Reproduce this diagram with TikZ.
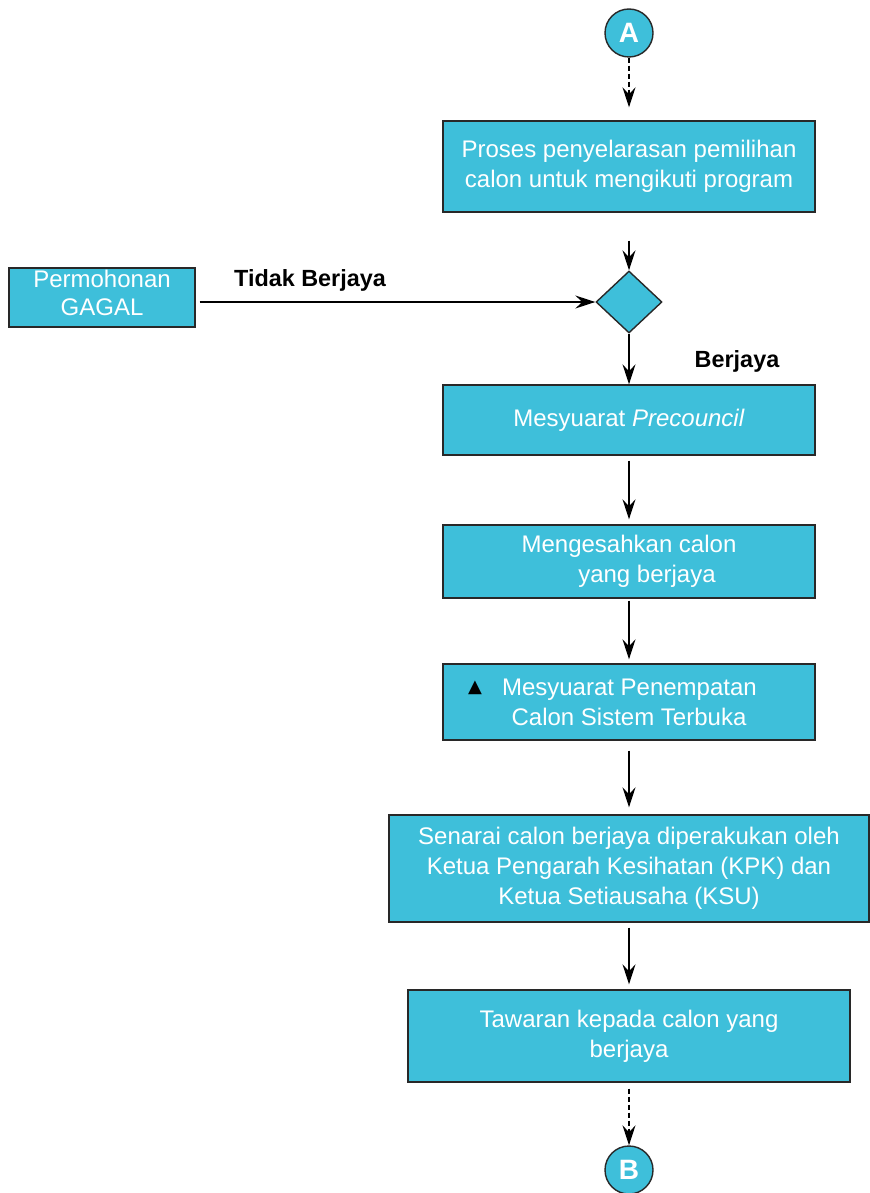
\documentclass[tikz,border=0pt]{standalone}
\usepackage{fontspec}
\setmainfont{Liberation Sans}
\newfontfamily\symfont{DejaVu Sans}
\usetikzlibrary{arrows.meta,positioning,shapes.geometric}
\definecolor{boxcyan}{RGB}{62,191,218}
\definecolor{edgegray}{RGB}{40,40,40}
\tikzstyle{box}=[draw=edgegray,fill=boxcyan,text=white,align=center,line width=0.7pt,minimum width=186pt,inner sep=0pt,font=\fontsize{12}{15}\selectfont]
\tikzstyle{dec}=[draw=edgegray,fill=boxcyan,diamond,line width=0.7pt,minimum width=33pt,minimum height=31pt,inner sep=0pt]
\tikzstyle{conn}=[draw=edgegray,fill=boxcyan,circle,line width=0.7pt,minimum size=24pt,inner sep=0pt,text=white,font=\fontsize{14}{14}\selectfont\bfseries]
\tikzstyle{lbl}=[font=\fontsize{11.7}{14}\selectfont\bfseries]

\begin{document}
\begin{tikzpicture}[
      >={Stealth[length=10pt,width=6.5pt,inset=3.5pt]},
      x=1pt,y=1pt,
      line width=0.6pt
    ]
    \useasboundingbox (0,0) rectangle (435,-596.5);

     \node [box,minimum height=45.5pt] (n1) at (314.5,-83.25) {Proses penyelarasan pemilihan\\calon untuk mengikuti program};
     \node [conn] (A) [node distance=66.75pt,above of=n1] {A};
     \node [dec] (d) [node distance=67.75pt,below of=n1] {};
     \node [box,minimum width=93pt,minimum height=29.5pt,font=\fontsize{12}{14}\selectfont] (gagal) [node distance=263.5pt,left of=d,yshift=2.25pt] {Permohonan\\GAGAL\rule[-5pt]{0pt}{0pt}};
     \node [box,minimum height=35pt] (n2) [node distance=59pt,below of=d] {Mesyuarat \textit{Precouncil}};
     \node [box,minimum height=36.5pt] (n3) [node distance=70.75pt,below of=n2] {Mengesahkan calon\\\hspace*{1.5em}yang berjaya};
     \node [box,minimum height=38pt] (n4) [node distance=70.25pt,below of=n3] {\raisebox{1.5pt}{\color{black}\symfont\fontsize{9}{9}\selectfont ▲}\hspace{10pt}Mesyuarat Penempatan\hspace{16.5pt}\mbox{}\\Calon Sistem Terbuka};
     \node [box,minimum width=240pt,minimum height=53.5pt] (n5) [node distance=83.25pt,below of=n4] {Senarai calon berjaya diperakukan oleh\\Ketua Pengarah Kesihatan (KPK) dan\\Ketua Setiausaha (KSU)};
     \node [box,minimum width=221pt,minimum height=46pt] (n6) [node distance=83.75pt,below of=n5] {Tawaran kepada calon yang\\berjaya};
     \node [conn] (B) [node distance=67pt,below of=n6] {B};

     \node [lbl] (tb) at (155,-140) {Tidak Berjaya};
     \node [lbl] (bj) at (368.5,-180.5) {Berjaya};

      \draw[->,dash pattern=on 2.5pt off 1.5pt,shorten >=6.5pt] (A) -- (n1);
      \draw[->,shorten <=14pt] (n1) -- (d);
      \draw[->,shorten <=2pt] (gagal.east |- d) -- (d);
      \draw[->] (d) -- (n2);
      \draw[->,shorten <=2.5pt,shorten >=2.5pt] (n2) -- (n3);
      \draw[->,shorten <=1pt,shorten >=2pt] (n3) -- (n4);
      \draw[->,shorten <=5pt,shorten >=3.5pt] (n4) -- (n5);
      \draw[->,shorten <=2.5pt,shorten >=2.5pt] (n5) -- (n6);
      \draw[->,dash pattern=on 2.5pt off 1.5pt,shorten <=3pt] (n6) -- (B);
    \end{tikzpicture}
\end{document}
